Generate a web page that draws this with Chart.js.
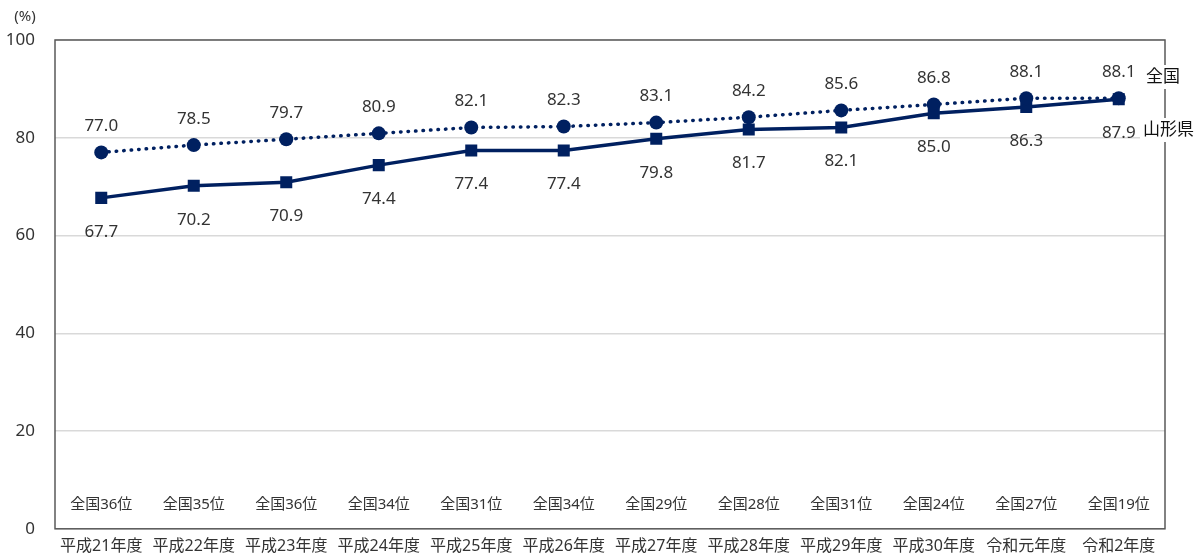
<!DOCTYPE html>
<html>
<head>
<meta charset="utf-8">
<script src="https://cdn.jsdelivr.net/npm/chart.js@4/dist/chart.umd.min.js"></script>
<style>
  html, body { margin: 0; padding: 0; background: #fff; }
  #wrap { width: 1196px; height: 559px; position: relative; }
</style>
</head>
<body>
<div id="wrap"><canvas id="chart"></canvas></div>
<script>
// 年度ごとの割合 (%)
const years = ['平成21年度', '平成22年度', '平成23年度', '平成24年度', '平成25年度', '平成26年度',
               '平成27年度', '平成28年度', '平成29年度', '平成30年度', '令和元年度', '令和2年度'];
const national = [77.0, 78.5, 79.7, 80.9, 82.1, 82.3, 83.1, 84.2, 85.6, 86.8, 88.1, 88.1];
const yamagata = [67.7, 70.2, 70.9, 74.4, 77.4, 77.4, 79.8, 81.7, 82.1, 85.0, 86.3, 87.9];
const ranks = [36, 35, 36, 34, 31, 34, 29, 28, 31, 24, 27, 19];
const yTicks = [0, 20, 40, 60, 80, 100];

const NAVY = '#002060';
const TEXT = '#333333';
const FONT = '"Noto Sans", "Noto Sans CJK JP", sans-serif';

const labelPlugin = {
    id: 'labels',
    beforeDatasetsDraw(chart) {
        const { ctx, chartArea: a } = chart;
        ctx.save();
        ctx.strokeStyle = '#595959';
        ctx.lineWidth = 1.5;
        ctx.strokeRect(a.left, a.top, a.right - a.left, a.bottom - a.top);
        ctx.restore();
    },
    afterDatasetsDraw(chart) {
        const { ctx } = chart;
        const x = chart.scales.x;
        ctx.save();
        ctx.fillStyle = TEXT;
        ctx.textAlign = 'center';
        ctx.textBaseline = 'middle';
        ctx.font = '17px ' + FONT;

        const m0 = chart.getDatasetMeta(0).data;
        const m1 = chart.getDatasetMeta(1).data;
        national.forEach((v, i) => {
            ctx.fillText(v.toFixed(1), m0[i].x, m0[i].y - 26);
        });
        yamagata.forEach((v, i) => {
            ctx.fillText(v.toFixed(1), m1[i].x, m1[i].y + 34);
        });

        // 全国順位
        ctx.font = '15px ' + FONT;
        ranks.forEach((r, i) => {
            ctx.fillText('全国' + r + '位', x.getPixelForValue(i), 505);
        });

        // 系列名
        ctx.font = '17px ' + FONT;
        ctx.fillStyle = '#fff';
        ctx.fillRect(1140, 65, 56, 24);
        ctx.fillRect(1140, 118, 56, 24);
        ctx.fillStyle = '#111';
        ctx.textAlign = 'left';
        ctx.fillText('全国', 1146, 77);
        ctx.fillText('山形県', 1143, 130);

        // 単位
        ctx.fillStyle = TEXT;
        ctx.font = '15px ' + FONT;
        ctx.textAlign = 'center';
        ctx.fillText('(%)', 25, 17);
        ctx.restore();
    }
};

new Chart(document.getElementById('chart'), {
    type: 'line',
    data: {
        labels: years,
        datasets: [{
            label: '全国',
            data: national,
            borderColor: NAVY,
            backgroundColor: NAVY,
            borderWidth: 3.5,
            borderDash: [0.5, 7],
            borderCapStyle: 'round',
            pointStyle: 'circle',
            pointRadius: 7,
            pointBorderWidth: 0,
            tension: 0
        }, {
            label: '山形県',
            data: yamagata,
            borderColor: NAVY,
            backgroundColor: NAVY,
            borderWidth: 3.5,
            pointStyle: 'rect',
            pointRadius: 8.5,
            pointBorderWidth: 0,
            tension: 0
        }]
    },
    options: {
        responsive: true,
        maintainAspectRatio: false,
        animation: false,
        layout: { padding: { top: 40, right: 31, left: 0, bottom: 0 } },
        plugins: {
            legend: { display: false },
            tooltip: { enabled: false }
        },
        scales: {
            x: {
                offset: true,
                grid: { display: false },
                border: { display: false },
                ticks: {
                    color: TEXT,
                    font: { size: 16, family: FONT, lineHeight: 1 },
                    padding: 2,
                    maxRotation: 0,
                    autoSkip: false
                },
                afterFit(scale) { scale.height = 29; }
            },
            y: {
                min: 0,
                max: 100,
                afterBuildTicks(scale) { scale.ticks = yTicks.map(v => ({ value: v })); },
                grid: { color: '#d9d9d9', lineWidth: 1.5, drawTicks: false },
                border: { display: false },
                ticks: {
                    color: TEXT,
                    font: { size: 17, family: FONT },
                    padding: 20
                },
                afterFit(scale) { scale.width = 55; }
            }
        }
    },
    plugins: [labelPlugin]
});
</script>
</body>
</html>
